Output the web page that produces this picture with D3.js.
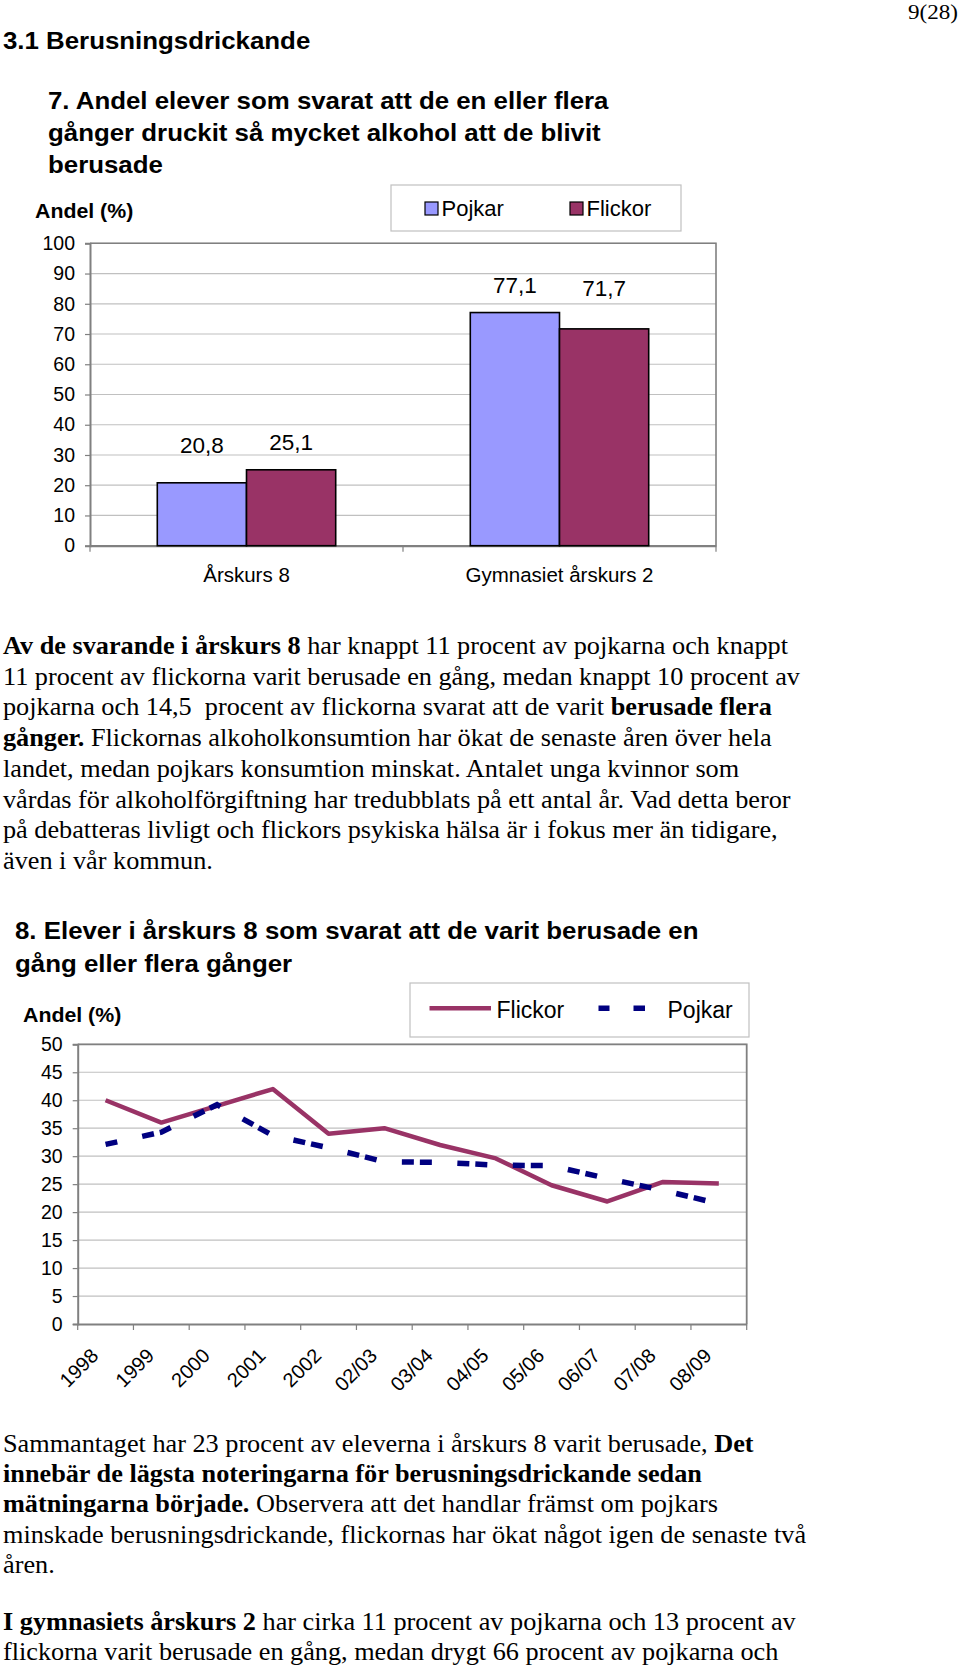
<!DOCTYPE html>
<html>
<head>
<meta charset="utf-8">
<script src="https://cdn.jsdelivr.net/npm/d3@7"></script>
<style>
  html, body { margin: 0; padding: 0; background: #ffffff; }
  svg { display: block; }
  text { white-space: pre; }
</style>
</head>
<body>
<script>
// ---------------- DATA ----------------
const barCategories = ["Årskurs 8", "Gymnasiet årskurs 2"];
const barSeriesNames = ["Pojkar", "Flickor"];
const barPojkar = [20.8, 77.1];
const barFlickor = [25.1, 71.7];
const barTicks = [0, 10, 20, 30, 40, 50, 60, 70, 80, 90, 100];

const lineYears = ["1998", "1999", "2000", "2001", "2002", "02/03", "03/04", "04/05", "05/06", "06/07", "07/08", "08/09"];
const lineFlickor = [40, 36, 39, 42, 34, 35, 32, 29.6, 24.8, 21.9, 25.4, 25.1];
const linePojkar = [32.1, 34.3, 39.2, 33.7, 31.5, 29, 28.9, 28.4, 28.3, 26, 23.9, 21.5];
const lineTicks = [0, 5, 10, 15, 20, 25, 30, 35, 40, 45, 50];

// ---------------- SETUP ----------------
const W = 960, H = 1667;
const SANS = "'Liberation Sans', Arial, sans-serif";
const SERIF = "'Liberation Serif', 'Times New Roman', serif";
const C_POJ = "#9999FF", C_FLI = "#993366", C_NAVY = "#000080";
const GRID = "#c0c0c0", FRAME = "#808080";

const svg = d3.select("body").append("svg")
  .attr("width", W).attr("height", H)
  .attr("viewBox", `0 0 ${W} ${H}`);

svg.append("rect").attr("width", W).attr("height", H).attr("fill", "#fff");

// text helper: parts = [[string, bold], ...]
function richText(x, y, parts, opt) {
  const t = svg.append("text")
    .attr("transform", `translate(${x},${y}) scale(${opt.sx || 1},1)`)
    .attr("font-family", opt.family)
    .attr("font-size", opt.size)
    .attr("fill", "#000")
    .attr("text-anchor", opt.anchor || "start");
  parts.forEach(p => {
    t.append("tspan").attr("font-weight", p[1] ? "bold" : "normal").text(p[0]);
  });
  return t;
}

// ---------------- HEADER ----------------
richText(958, 19, [["9(28)", false]], {family: SERIF, size: 22, anchor: "end", sx: 1.05});
richText(3, 49, [["3.1 Berusningsdrickande", true]], {family: SANS, size: 23.5, sx: 1.1});

const title1 = ["7. Andel elever som svarat att de en eller flera",
                "gånger druckit så mycket alkohol att de blivit",
                "berusade"];
title1.forEach((l, i) => richText(48, 109 + i * 32, [[l, true]], {family: SANS, size: 23.5, sx: 1.1}));

// ---------------- BAR CHART ----------------
const bp = {left: 90, right: 716, top: 243.3, bottom: 545.7};
const yb = d3.scaleLinear().domain([0, 100]).range([bp.bottom, bp.top]);
const x0 = d3.scaleBand().domain(barCategories).range([bp.left, bp.right])
  .paddingInner(0.43).paddingOuter(0.215);
const x1 = d3.scaleBand().domain(barSeriesNames).range([0, x0.bandwidth()]);
const colorB = d3.scaleOrdinal().domain(barSeriesNames).range([C_POJ, C_FLI]);

const barData = barCategories.map((c, i) => ({
  cat: c,
  vals: [{s: "Pojkar", v: barPojkar[i]}, {s: "Flickor", v: barFlickor[i]}]
}));

const gb = svg.append("g");
// gridlines
gb.append("g").selectAll("line").data(barTicks.filter(d => d > 0)).join("line")
  .attr("x1", bp.left).attr("x2", bp.right)
  .attr("y1", d => yb(d)).attr("y2", d => yb(d))
  .attr("stroke", GRID).attr("stroke-width", 1.2);
// frame top/right
gb.append("path")
  .attr("d", `M${bp.left},${bp.top}H${bp.right}V${bp.bottom}`)
  .attr("fill", "none").attr("stroke", FRAME).attr("stroke-width", 1.6);

// y axis
const yAxB = gb.append("g").attr("transform", `translate(${bp.left},0)`)
  .call(d3.axisLeft(yb).tickValues(barTicks).tickSize(5).tickPadding(10));
yAxB.select(".domain").attr("stroke", FRAME).attr("stroke-width", 2);
yAxB.selectAll(".tick line").attr("stroke", FRAME).attr("stroke-width", 1.2);
yAxB.selectAll("text").attr("font-family", SANS).attr("font-size", 19.5).attr("fill", "#000");

// x axis (category labels)
const xAxB = gb.append("g").attr("transform", `translate(0,${bp.bottom})`)
  .call(d3.axisBottom(x0).tickSize(0).tickPadding(0));
xAxB.select(".domain").attr("stroke", FRAME).attr("stroke-width", 2.2);
xAxB.selectAll("text").attr("y", 36).attr("dy", 0)
  .attr("font-family", SANS).attr("font-size", 20.5).attr("fill", "#000");
// category boundary ticks
const bBounds = barCategories.map(c => x0(c) - x0.step() * x0.paddingInner() / 2)
  .map((v, i) => i === 0 ? bp.left : v).concat([bp.right]);
gb.append("g").selectAll("line").data(bBounds).join("line")
  .attr("x1", d => d).attr("x2", d => d)
  .attr("y1", bp.bottom).attr("y2", bp.bottom + 6)
  .attr("stroke", FRAME).attr("stroke-width", 1.2);

// bars
const groups = gb.append("g").selectAll("g").data(barData).join("g")
  .attr("transform", d => `translate(${x0(d.cat)},0)`);
groups.selectAll("rect").data(d => d.vals).join("rect")
  .attr("x", d => x1(d.s))
  .attr("y", d => yb(d.v))
  .attr("width", x1.bandwidth())
  .attr("height", d => yb(0) - yb(d.v))
  .attr("fill", d => colorB(d.s))
  .attr("stroke", "#000").attr("stroke-width", 1.6);

const fmt = d3.formatLocale({decimal: ",", thousands: " ", grouping: [3], currency: ["", ""]}).format(".1f");
groups.each(function(d) {
  const gmax = d3.max(d.vals, v => v.v);
  d3.select(this).selectAll("text.val").data(d.vals).join("text")
    .attr("class", "val")
    .attr("x", v => x1(v.s) + x1.bandwidth() / 2)
    .attr("y", v => yb(gmax) - 20 + (v.v < gmax ? 3 : 0))
    .attr("text-anchor", "middle")
    .attr("font-family", SANS).attr("font-size", 22.5).attr("fill", "#000")
    .text(v => fmt(v.v));
});

// y label
richText(35, 218, [["Andel (%)", true]], {family: SANS, size: 20.5, sx: 1.04});

// legend
const lg1 = svg.append("g");
lg1.append("rect").attr("x", 391).attr("y", 185).attr("width", 290).attr("height", 46)
  .attr("fill", "#fff").attr("stroke", GRID).attr("stroke-width", 1.2);
const leg1X = {Pojkar: 425, Flickor: 570};
barSeriesNames.forEach(s => {
  lg1.append("rect").attr("x", leg1X[s]).attr("y", 202).attr("width", 13).attr("height", 13)
    .attr("fill", colorB(s)).attr("stroke", "#000").attr("stroke-width", 1.2);
  lg1.append("text").attr("x", leg1X[s] + 16.5).attr("y", 216)
    .attr("font-family", SANS).attr("font-size", 22).attr("fill", "#000").text(s);
});

// ---------------- PARAGRAPH 1 ----------------
const para1 = [
  [["Av de svarande i årskurs 8", true], [" har knappt 11 procent av pojkarna och knappt", false]],
  [["11 procent av flickorna varit berusade en gång, medan knappt 10 procent av", false]],
  [["pojkarna och 14,5  procent av flickorna svarat att de varit ", false], ["berusade flera", true]],
  [["gånger.", true], [" Flickornas alkoholkonsumtion har ökat de senaste åren över hela", false]],
  [["landet, medan pojkars konsumtion minskat. Antalet unga kvinnor som", false]],
  [["vårdas för alkoholförgiftning har tredubblats på ett antal år. Vad detta beror", false]],
  [["på debatteras livligt och flickors psykiska hälsa är i fokus mer än tidigare,", false]],
  [["även i vår kommun.", false]]
];
para1.forEach((l, i) => richText(3, 654 + i * 30.7, l, {family: SERIF, size: 25, sx: 1.05}));

// ---------------- LINE CHART ----------------
const title2 = ["8. Elever i årskurs 8 som svarat att de varit berusade en",
                "gång eller flera gånger"];
title2.forEach((l, i) => richText(15, 939 + i * 32.5, [[l, true]], {family: SANS, size: 23.5, sx: 1.1}));
richText(23, 1021.5, [["Andel (%)", true]], {family: SANS, size: 20.5, sx: 1.04});

const lp = {left: 77.7, right: 746.7, top: 1044.3, bottom: 1324};
const yl = d3.scaleLinear().domain([0, 50]).range([lp.bottom, lp.top]);
const xl = d3.scaleBand().domain(lineYears).range([lp.left, lp.right]);
const gl = svg.append("g");

gl.append("g").selectAll("line").data(lineTicks.filter(d => d > 0)).join("line")
  .attr("x1", lp.left).attr("x2", lp.right)
  .attr("y1", d => yl(d)).attr("y2", d => yl(d))
  .attr("stroke", GRID).attr("stroke-width", 1.2);
gl.append("path")
  .attr("d", `M${lp.left},${lp.top}H${lp.right}V${lp.bottom}`)
  .attr("fill", "none").attr("stroke", FRAME).attr("stroke-width", 1.8);

const yAxL = gl.append("g").attr("transform", `translate(${lp.left},0)`)
  .call(d3.axisLeft(yl).tickValues(lineTicks).tickSize(5).tickPadding(10));
yAxL.select(".domain").attr("stroke", FRAME).attr("stroke-width", 2);
yAxL.selectAll(".tick line").attr("stroke", FRAME).attr("stroke-width", 1.2);
yAxL.selectAll("text").attr("font-family", SANS).attr("font-size", 19.5).attr("fill", "#000");

const xAxL = gl.append("g").attr("transform", `translate(0,${lp.bottom})`)
  .call(d3.axisBottom(xl).tickSize(0).tickPadding(0));
xAxL.select(".domain").attr("stroke", FRAME).attr("stroke-width", 2.2);
xAxL.selectAll("text")
  .attr("x", 0).attr("y", 0).attr("dy", 0)
  .attr("transform", "translate(-6,33) rotate(-45)")
  .attr("text-anchor", "end")
  .attr("font-family", SANS).attr("font-size", 20).attr("fill", "#000");
// boundary ticks
const lBounds = lineYears.map(d => xl(d)).concat([lp.right]);
gl.append("g").selectAll("line").data(lBounds).join("line")
  .attr("x1", d => d).attr("x2", d => d)
  .attr("y1", lp.bottom).attr("y2", lp.bottom + 6)
  .attr("stroke", FRAME).attr("stroke-width", 1.2);

const lineGen = d3.line()
  .x((d, i) => xl(lineYears[i]) + xl.bandwidth() / 2)
  .y(d => yl(d));

gl.append("path").datum(lineFlickor)
  .attr("d", lineGen)
  .attr("fill", "none").attr("stroke", C_FLI).attr("stroke-width", 4.5)
  .attr("stroke-linejoin", "round");
gl.append("path").datum(linePojkar)
  .attr("d", lineGen)
  .attr("fill", "none").attr("stroke", C_NAVY).attr("stroke-width", 5.5)
  .attr("stroke-dasharray", "12,25.5,12,6")
  .attr("stroke-linecap", "butt");

// legend 2
const lg2 = svg.append("g");
lg2.append("rect").attr("x", 410).attr("y", 983).attr("width", 339).attr("height", 54)
  .attr("fill", "#fff").attr("stroke", GRID).attr("stroke-width", 1.2);
lg2.append("line").attr("x1", 429.5).attr("x2", 491).attr("y1", 1008.3).attr("y2", 1008.3)
  .attr("stroke", C_FLI).attr("stroke-width", 4.5);
lg2.append("text").attr("x", 496.5).attr("y", 1018)
  .attr("font-family", SANS).attr("font-size", 23).attr("fill", "#000").text("Flickor");
lg2.append("line").attr("x1", 598.5).attr("x2", 645).attr("y1", 1008.3).attr("y2", 1008.3)
  .attr("stroke", C_NAVY).attr("stroke-width", 5.5).attr("stroke-dasharray", "11,24,12");
lg2.append("text").attr("x", 667.5).attr("y", 1018)
  .attr("font-family", SANS).attr("font-size", 23).attr("fill", "#000").text("Pojkar");

// ---------------- PARAGRAPHS 2 & 3 ----------------
const para2 = [
  [["Sammantaget har 23 procent av eleverna i årskurs 8 varit berusade, ", false], ["Det", true]],
  [["innebär de lägsta noteringarna för berusningsdrickande sedan", true]],
  [["mätningarna började.", true], [" Observera att det handlar främst om pojkars", false]],
  [["minskade berusningsdrickande, flickornas har ökat något igen de senaste två", false]],
  [["åren.", false]]
];
para2.forEach((l, i) => richText(3, 1452 + i * 30.2, l, {family: SERIF, size: 25, sx: 1.05}));

const para3 = [
  [["I gymnasiets årskurs 2", true], [" har cirka 11 procent av pojkarna och 13 procent av", false]],
  [["flickorna varit berusade en gång, medan drygt 66 procent av pojkarna och", false]]
];
para3.forEach((l, i) => richText(3, 1629.5 + i * 30.2, l, {family: SERIF, size: 25, sx: 1.05}));
</script>
</body>
</html>
